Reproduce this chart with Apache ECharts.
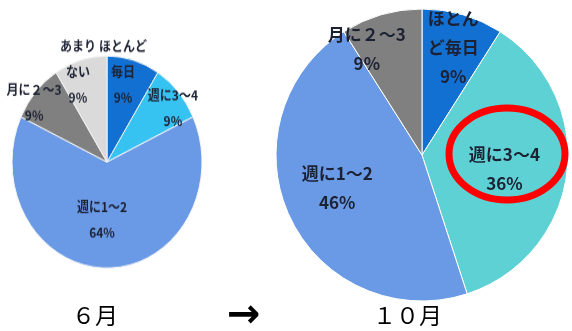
<!DOCTYPE html>
<html>
<head>
<meta charset="utf-8">
<script src="https://cdn.jsdelivr.net/npm/echarts@6/dist/echarts.min.js"></script>
<style>
  html, body { margin: 0; padding: 0; background: #ffffff; }
  #wrap { position: relative; width: 572px; height: 331px; overflow: hidden; }
  #octChart { position: absolute; left: 0; top: 0; width: 572px; height: 331px; }
  #junChart { position: absolute; left: 0; top: 0; width: 225px; height: 290px;
              transform: scaleY(1.116); transform-origin: 0 0; }
</style>
</head>
<body>
<div id="wrap">
  <div id="octChart"></div>
  <div id="junChart"></div>
</div>
<script>
// June survey: how often (share of respondents, %)
const junCategories = ['ほとんど\n毎日', '週に3～4', '週に1～2', '月に２～3', 'あまり\nない'];
const junValues = [9, 9, 64, 9, 9];

// October survey
const octCategories = ['ほとん\nど毎日', '週に3～4', '週に1～2', '月に２～3'];
const octValues = [9, 36, 46, 9];

// Bottom captions
const periodLabels = ['６月', '→', '１０月'];

// Slice colours
const junColors = ['#1270d2', '#36c3f2', '#6a9ae6', '#808080', '#dadada'];
const octColors = ['#1270d2', '#5dd1d3', '#6a9ae6', '#808080'];

// Nudges applied to the inside labels (pixels)
const junLabelShift = [[2, -32], [28, -15], [-5, 1], [-35, -20], [-15, -32]];
const octLabelShift = [[10, -34], [7, 5], [-16, 1], [-34, -33]];

const textColor = '#1c2233';

function pieData(names, values, colors) {
  return names.map((n, i) => ({ name: n, value: values[i], itemStyle: { color: colors[i] } }));
}

// ---- October pie, highlight ring and captions ----
const oct = echarts.init(document.getElementById('octChart'), null, { renderer: 'canvas' });
oct.setOption({
  animation: false,
  series: [{
    type: 'pie',
    center: [422, 155],
    radius: [0, 146],
    startAngle: 90,
    clockwise: true,
    silent: true,
    itemStyle: { borderColor: '#ffffff', borderWidth: 1 },
    label: {
      show: true,
      position: 'inside',
      formatter: p => p.name + '\n' + p.value + '%',
      color: textColor,
      fontSize: 17,
      fontWeight: 'bold',
      lineHeight: 29,
      fontFamily: 'Noto Sans CJK JP'
    },
    labelLine: { show: false },
    labelLayout: p => ({ dx: octLabelShift[p.dataIndex][0], dy: octLabelShift[p.dataIndex][1] }),
    data: pieData(octCategories, octValues, octColors)
  }],
  graphic: [
    {
      type: 'ellipse',
      shape: { cx: 507, cy: 154, rx: 58, ry: 46 },
      style: { fill: null, stroke: '#ff0000', lineWidth: 7 },
      z: 100
    },
    {
      type: 'text', left: 72, top: 304,
      style: { text: periodLabels[0], font: '23px "Noto Sans CJK JP"', fill: '#000' }
    },
    {
      type: 'text', left: 227, top: 297,
      style: { text: periodLabels[1], font: 'bold 40px "DejaVu Sans"', fill: '#000' }
    },
    {
      type: 'text', left: 373, top: 304,
      style: { text: periodLabels[2], font: '23px "Noto Sans CJK JP"', fill: '#000' }
    }
  ]
});

// ---- June pie ----
const jun = echarts.init(document.getElementById('junChart'), null, { renderer: 'canvas' });
jun.setOption({
  animation: false,
  series: [{
    type: 'pie',
    center: [107, 145.2],
    radius: [0, 95],
    startAngle: 90,
    clockwise: true,
    silent: true,
    itemStyle: { borderColor: '#f4f4f4', borderWidth: 1 },
    label: {
      show: true,
      position: 'inside',
      formatter: p => p.name + '\n' + p.value + '%',
      color: textColor,
      fontSize: 12,
      fontWeight: 'bold',
      lineHeight: 23,
      fontFamily: 'Noto Sans CJK JP'
    },
    labelLine: { show: false },
    labelLayout: p => ({ dx: junLabelShift[p.dataIndex][0], dy: junLabelShift[p.dataIndex][1] }),
    data: pieData(junCategories, junValues, junColors)
  }]
});
</script>
</body>
</html>
